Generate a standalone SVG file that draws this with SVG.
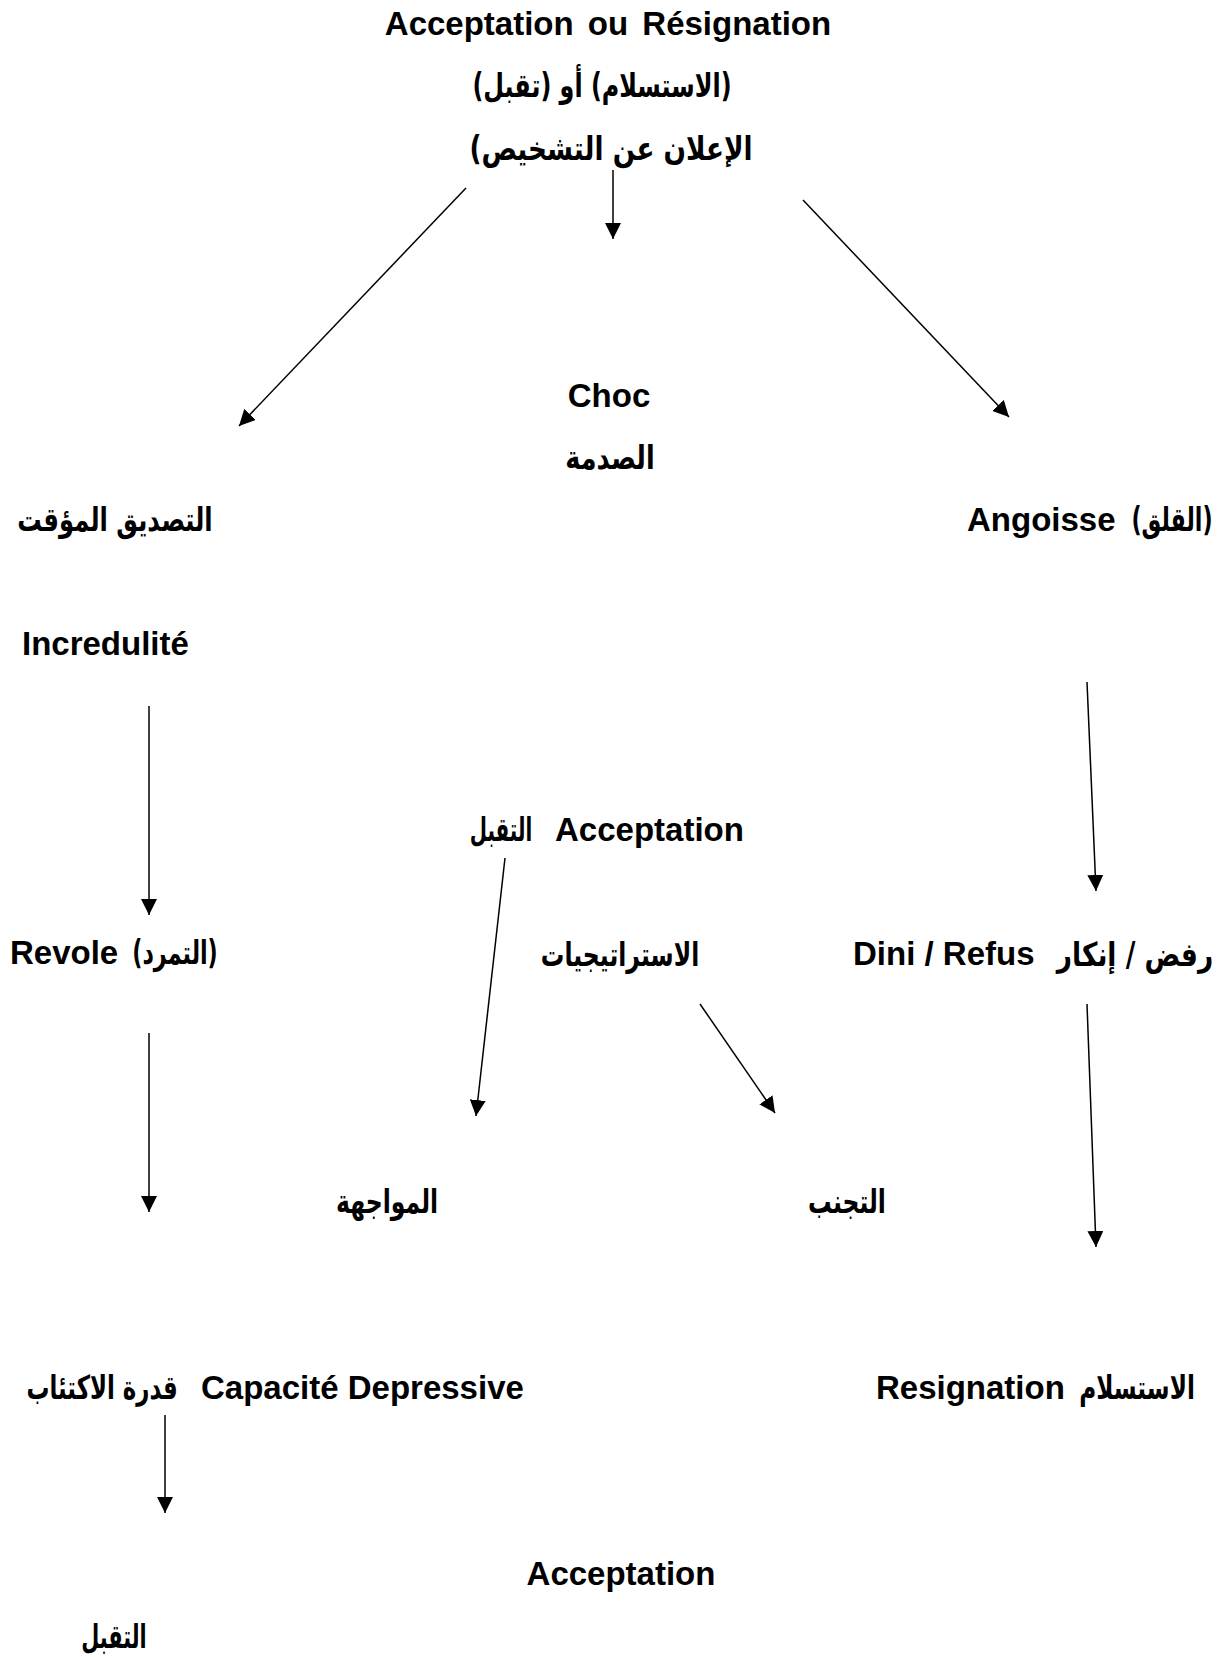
<svg xmlns="http://www.w3.org/2000/svg" width="1221" height="1657" viewBox="0 0 1221 1657">
<style>
.lt{font-family:"Liberation Sans",Arial,sans-serif;font-weight:bold;font-size:33px;fill:#000}
.ar{font-family:"DejaVu Sans",sans-serif;font-weight:bold;font-size:33px;fill:#000;direction:rtl;text-anchor:middle}
.c{stroke:#000;stroke-width:1.5;fill:none}
</style>
<defs>
<marker id="ah" markerUnits="userSpaceOnUse" markerWidth="17" markerHeight="16" refX="16" refY="8" orient="auto">
<path d="M0,0 L16,8 L0,16 z" fill="#000"/>
</marker>
</defs>
<rect width="1221" height="1657" fill="#fff"/>
<g id="connectors">
<line class="c" x1="613" y1="170" x2="613" y2="239" marker-end="url(#ah)"/>
<line class="c" x1="466" y1="188" x2="239" y2="426" marker-end="url(#ah)"/>
<line class="c" x1="803" y1="200" x2="1009" y2="417" marker-end="url(#ah)"/>
<line class="c" x1="149" y1="706" x2="149" y2="915" marker-end="url(#ah)"/>
<line class="c" x1="1087" y1="682" x2="1096" y2="891" marker-end="url(#ah)"/>
<line class="c" x1="505" y1="858" x2="476" y2="1116" marker-end="url(#ah)"/>
<line class="c" x1="700" y1="1004" x2="775" y2="1113" marker-end="url(#ah)"/>
<line class="c" x1="1087" y1="1004" x2="1096" y2="1247" marker-end="url(#ah)"/>
<line class="c" x1="149" y1="1033" x2="149" y2="1212" marker-end="url(#ah)"/>
<line class="c" x1="165" y1="1415" x2="165" y2="1513" stroke-width="1.2" marker-end="url(#ah)"/>
</g>
<g id="n-top">
<text class="lt" x="608" y="35" text-anchor="middle" word-spacing="5">Acceptation ou Résignation</text>
<text class="ar" transform="translate(602,97) scale(0.73,1)" textLength="355" lengthAdjust="spacingAndGlyphs">(الاستسلام) أو (تقبل)</text>
<text class="ar" transform="translate(611,160) scale(0.8,1)" textLength="354" lengthAdjust="spacingAndGlyphs">الإعلان عن التشخيص)</text>
</g>
<g id="n-choc">
<text class="lt" x="609" y="407" text-anchor="middle">Choc</text>
<text class="ar" transform="translate(610,469) scale(0.79,1)" textLength="113" lengthAdjust="spacingAndGlyphs">الصدمة</text>
</g>
<g id="n-incredulite">
<text class="ar" transform="translate(115,531) scale(0.74,1)" textLength="264" lengthAdjust="spacingAndGlyphs">التصديق المؤقت</text>
<text class="lt" x="22" y="655">Incredulité</text>
</g>
<g id="n-angoisse">
<text class="lt" x="967" y="531">Angoisse</text>
<text class="ar" transform="translate(1172,531) scale(0.7,1)" textLength="116" lengthAdjust="spacingAndGlyphs">(القلق)</text>
</g>
<g id="n-acceptation-mid">
<text class="ar" transform="translate(501,841) scale(0.6,1)" textLength="104" lengthAdjust="spacingAndGlyphs">التقبل</text>
<text class="lt" x="555" y="841">Acceptation</text>
</g>
<g id="n-revole">
<text class="lt" x="10" y="964">Revole</text>
<text class="ar" transform="translate(175,964) scale(0.69,1)" textLength="124" lengthAdjust="spacingAndGlyphs">(التمرد)</text>
</g>
<g id="n-strategies">
<text class="ar" transform="translate(620,966) scale(0.72,1)" textLength="220" lengthAdjust="spacingAndGlyphs">الاستراتيجيات</text>
</g>
<g id="n-refus">
<text class="lt" x="853" y="965">Dini / Refus</text>
<text class="ar" transform="translate(1135,966) scale(0.81,1)" textLength="193" lengthAdjust="spacingAndGlyphs">رفض / إنكار</text>
</g>
<g id="n-confrontation">
<text class="ar" transform="translate(387,1213) scale(0.73,1)" textLength="140" lengthAdjust="spacingAndGlyphs">المواجهة</text>
</g>
<g id="n-evitement">
<text class="ar" transform="translate(847,1213) scale(0.72,1)" textLength="108" lengthAdjust="spacingAndGlyphs">التجنب</text>
</g>
<g id="n-capacite">
<text class="ar" transform="translate(102,1399) scale(0.7,1)" textLength="216" lengthAdjust="spacingAndGlyphs">قدرة الاكتئاب</text>
<text class="lt" x="201" y="1399">Capacité Depressive</text>
</g>
<g id="n-resignation">
<text class="lt" x="876" y="1399">Resignation</text>
<text class="ar" transform="translate(1137,1399) scale(0.71,1)" textLength="163" lengthAdjust="spacingAndGlyphs">الاستسلام</text>
</g>
<g id="n-acceptation-bottom">
<text class="lt" x="621" y="1585" text-anchor="middle">Acceptation</text>
<text class="ar" transform="translate(114,1648) scale(0.63,1)" textLength="104" lengthAdjust="spacingAndGlyphs">التقبل</text>
</g>
</svg>
